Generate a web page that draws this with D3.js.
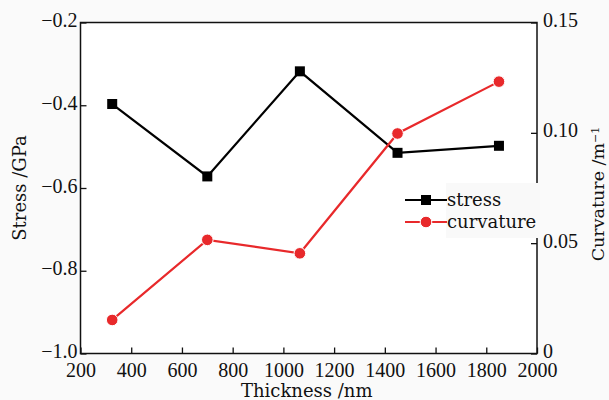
<!DOCTYPE html>
<html>
<head>
<meta charset="utf-8">
<script src="https://d3js.org/d3.v7.min.js"></script>
<style>
  body { margin: 0; background: #fafafa; }
  svg { display: block; }
  text { fill: #111; }
</style>
</head>
<body>
<div id="chart"></div>
<script>
// data
const thickness = [325, 700, 1065, 1450, 1850];
const stress = [-0.397, -0.572, -0.318, -0.515, -0.498];
const curvature = [0.0152, 0.0515, 0.0454, 0.0997, 0.1232];
const xTicks = [200, 400, 600, 800, 1000, 1200, 1400, 1600, 1800, 2000];
const stressTicks = [-1.0, -0.8, -0.6, -0.4, -0.2];
const curvTicks = [0, 0.05, 0.10, 0.15];

const width = 609, height = 400;
const margin = { top: 22.5, right: 72, bottom: 46.5, left: 80.5 };

const svg = d3.select("#chart").append("svg")
  .attr("width", width)
  .attr("height", height);

const x = d3.scaleLinear().domain([200, 2000]).range([margin.left, width - margin.right]);
const yL = d3.scaleLinear().domain([-1.0, -0.2]).range([height - margin.bottom, margin.top]);
const yR = d3.scaleLinear().domain([0, 0.15]).range([height - margin.bottom, margin.top]);

// plot background
svg.append("rect")
  .attr("x", margin.left).attr("y", margin.top)
  .attr("width", x(2000) - x(200)).attr("height", yL(-1.0) - yL(-0.2))
  .attr("fill", "#fff");

const tickFont = "'Liberation Serif', serif";
const textFont = "'DejaVu Serif', serif";
const tickSize = "20px";
const titleSize = "18px";

// axes, ticks pointing inward
const gx = svg.append("g")
  .attr("transform", `translate(0,${yL(-1.0)})`)
  .call(d3.axisBottom(x).tickValues(xTicks).tickSize(-6).tickSizeOuter(0).tickPadding(9).tickFormat(d3.format("d")));
const gl = svg.append("g")
  .attr("transform", `translate(${margin.left},0)`)
  .call(d3.axisLeft(yL).tickValues(stressTicks).tickSize(-6).tickSizeOuter(0).tickPadding(3).tickFormat(d3.format(".1f")));
const gr = svg.append("g")
  .attr("transform", `translate(${x(2000)},0)`)
  .call(d3.axisRight(yR).tickValues(curvTicks).tickSize(-6).tickSizeOuter(0).tickPadding(6)
    .tickFormat(d => d === 0 ? "0" : d3.format(".2f")(d)));

[gx, gl, gr].forEach(g => {
  g.selectAll("text")
    .style("font-family", tickFont).style("font-size", tickSize).attr("fill", "#111");
  g.selectAll("line").attr("stroke", "#111").attr("stroke-width", 1.3);
  g.select(".domain").remove();
});
// side labels sit slightly above their tick, as in the reference
gl.selectAll("text").attr("dy", "0.2em");
gr.selectAll("text").attr("dy", "0.2em");

// frame
svg.append("rect")
  .attr("x", margin.left).attr("y", margin.top)
  .attr("width", x(2000) - x(200)).attr("height", yL(-1.0) - yL(-0.2))
  .attr("fill", "none").attr("stroke", "#111").attr("stroke-width", 1.5);

// axis titles
svg.append("text")
  .attr("x", (x(200) + x(2000)) / 2 - 2).attr("y", 397)
  .attr("text-anchor", "middle")
  .style("font-family", textFont).style("font-size", titleSize)
  .text("Thickness /nm");

svg.append("text")
  .attr("transform", `translate(26,${(yL(-1) + yL(-0.2)) / 2}) rotate(-90)`)
  .attr("text-anchor", "middle")
  .style("font-family", textFont).style("font-size", titleSize)
  .text("Stress /GPa");

const rt = svg.append("text")
  .attr("transform", `translate(604,194) rotate(-90)`)
  .attr("text-anchor", "middle")
  .style("font-family", textFont).style("font-size", "17.5px");
rt.append("tspan").text("Curvature /m");
rt.append("tspan").attr("dy", "-0.5em").style("font-size", "11px").text("−1");

const red = "#e8292b";

// stress series
const stressData = thickness.map((t, i) => [t, stress[i]]);
svg.append("path")
  .datum(stressData)
  .attr("fill", "none").attr("stroke", "#000").attr("stroke-width", 2.2)
  .attr("d", d3.line().x(d => x(d[0])).y(d => yL(d[1])));
svg.selectAll(".sq").data(stressData).enter().append("rect")
  .attr("x", d => x(d[0]) - 5).attr("y", d => yL(d[1]) - 5)
  .attr("width", 10).attr("height", 10).attr("fill", "#000");

// curvature series
const curvData = thickness.map((t, i) => [t, curvature[i]]);
svg.append("path")
  .datum(curvData)
  .attr("fill", "none").attr("stroke", red).attr("stroke-width", 2.2)
  .attr("d", d3.line().x(d => x(d[0])).y(d => yR(d[1])));
svg.selectAll(".ci").data(curvData).enter().append("circle")
  .attr("cx", d => x(d[0])).attr("cy", d => yR(d[1]))
  .attr("r", 5.8).attr("fill", red).attr("stroke", "#fff").attr("stroke-width", 1);

// legend
const lg = svg.append("g").attr("transform", "translate(405,200)");
lg.append("rect").attr("x", 41).attr("y", -17).attr("width", 94).attr("height", 55).attr("fill", "#f9f9f9");
lg.append("line").attr("x1", 0).attr("x2", 42).attr("y1", 0).attr("y2", 0).attr("stroke", "#000").attr("stroke-width", 2.2);
lg.append("rect").attr("x", 16).attr("y", -5).attr("width", 10).attr("height", 10).attr("fill", "#000");
lg.append("text").attr("x", 42).attr("y", 6)
  .style("font-family", textFont).style("font-size", titleSize).text("stress");
lg.append("line").attr("x1", 0).attr("x2", 42).attr("y1", 22).attr("y2", 22).attr("stroke", red).attr("stroke-width", 2.2);
lg.append("circle").attr("cx", 21).attr("cy", 22).attr("r", 5.8).attr("fill", red).attr("stroke", "#fff").attr("stroke-width", 1);
lg.append("text").attr("x", 42).attr("y", 28)
  .style("font-family", textFont).style("font-size", titleSize).text("curvature");
</script>
</body>
</html>
